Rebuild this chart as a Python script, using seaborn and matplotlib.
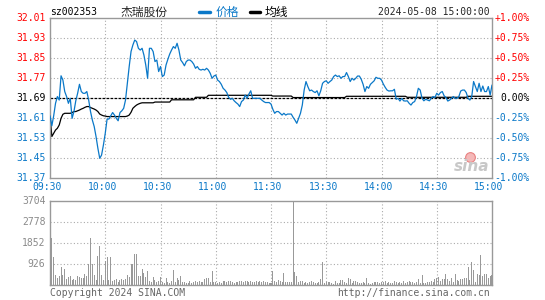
import numpy as np
import pandas as pd
import seaborn as sns
import matplotlib.pyplot as plt
from matplotlib.lines import Line2D
from matplotlib.transforms import blended_transform_factory, ScaledTranslation

# intraday data, one value per trading minute (09:30-11:30, 13:01-15:00)
price = [
    31.62, 31.58, 31.62, 31.67, 31.697, 31.683, 31.78, 31.763, 31.717, 31.697,
    31.67, 31.69, 31.61, 31.637, 31.68, 31.71, 31.746, 31.717, 31.71, 31.71,
    31.717, 31.683, 31.637, 31.603, 31.577, 31.537, 31.49, 31.45, 31.463, 31.503,
    31.55, 31.607, 31.607, 31.62, 31.633, 31.623, 31.61, 31.60, 31.633, 31.64,
    31.65, 31.683, 31.75, 31.817, 31.877, 31.903, 31.923, 31.917, 31.89, 31.883,
    31.89, 31.863, 31.823, 31.77, 31.89, 31.89, 31.877, 31.837, 31.843, 31.797,
    31.817, 31.777, 31.783, 31.823, 31.846, 31.867, 31.883, 31.897, 31.89, 31.91,
    31.883, 31.843, 31.833, 31.82, 31.837, 31.843, 31.843, 31.837, 31.827, 31.81,
    31.817, 31.806, 31.803, 31.806, 31.803, 31.81, 31.803, 31.79, 31.77, 31.779,
    31.783, 31.763, 31.757, 31.746, 31.73, 31.723, 31.713, 31.694, 31.686, 31.69,
    31.68, 31.673, 31.667, 31.657, 31.677, 31.683, 31.703, 31.69, 31.707, 31.72,
    31.69, 31.69, 31.69, 31.69, 31.69, 31.683, 31.677, 31.673, 31.673, 31.673,
    31.667, 31.646, 31.63, 31.637, 31.637, 31.63, 31.623, 31.63, 31.623, 31.627,
    31.627, 31.627, 31.614, 31.603, 31.59, 31.61, 31.63, 31.663, 31.723, 31.757,
    31.737, 31.72, 31.723, 31.717, 31.713, 31.72, 31.70, 31.72, 31.75, 31.757,
    31.76, 31.75, 31.757, 31.763, 31.777, 31.783, 31.777, 31.78, 31.77, 31.777,
    31.777, 31.793, 31.777, 31.757, 31.77, 31.763, 31.77, 31.779, 31.779, 31.766,
    31.746, 31.717, 31.737, 31.73, 31.746, 31.753, 31.76, 31.774, 31.77, 31.77,
    31.763, 31.747, 31.734, 31.723, 31.719, 31.72, 31.72, 31.726, 31.686, 31.69,
    31.679, 31.69, 31.68, 31.679, 31.68, 31.67, 31.663, 31.673, 31.677, 31.697,
    31.73, 31.723, 31.69, 31.68, 31.686, 31.683, 31.68, 31.69, 31.697, 31.693,
    31.71, 31.703, 31.713, 31.717, 31.70, 31.693, 31.679, 31.683, 31.69, 31.697,
    31.69, 31.69, 31.697, 31.719, 31.723, 31.723, 31.713, 31.69, 31.683, 31.697,
    31.757, 31.737, 31.717, 31.75, 31.717, 31.739, 31.717, 31.717, 31.737, 31.703,
    31.743,
]

avg_price = [
    31.623, 31.537, 31.55, 31.563, 31.57, 31.583, 31.61, 31.626, 31.63, 31.63,
    31.63, 31.63, 31.633, 31.637, 31.637, 31.64, 31.643, 31.647, 31.65, 31.654,
    31.657, 31.657, 31.653, 31.65, 31.647, 31.643, 31.637, 31.627, 31.623, 31.62,
    31.619, 31.617, 31.617, 31.617, 31.617, 31.617, 31.617, 31.617, 31.617, 31.617,
    31.617, 31.617, 31.619, 31.623, 31.634, 31.65, 31.657, 31.663, 31.667, 31.67,
    31.672, 31.672, 31.672, 31.672, 31.672, 31.672, 31.672, 31.675, 31.675, 31.675,
    31.675, 31.675, 31.675, 31.675, 31.675, 31.675, 31.684, 31.684, 31.684, 31.684,
    31.684, 31.684, 31.684, 31.684, 31.684, 31.684, 31.684, 31.684, 31.684, 31.694,
    31.694, 31.694, 31.694, 31.694, 31.694, 31.694, 31.702, 31.702, 31.702, 31.702,
    31.702, 31.702, 31.702, 31.702, 31.702, 31.702, 31.702, 31.702, 31.702, 31.702,
    31.702, 31.702, 31.702, 31.702, 31.702, 31.702, 31.702, 31.702, 31.702, 31.702,
    31.702, 31.702, 31.702, 31.702, 31.702, 31.702, 31.702, 31.702, 31.702, 31.702,
    31.702, 31.699, 31.699, 31.699, 31.699, 31.699, 31.699, 31.699, 31.699, 31.699,
    31.699, 31.699, 31.693, 31.693, 31.693, 31.693, 31.693, 31.693, 31.693, 31.693,
    31.693, 31.693, 31.693, 31.693, 31.693, 31.693, 31.693, 31.693, 31.693, 31.693,
    31.693, 31.693, 31.693, 31.693, 31.693, 31.693, 31.693, 31.693, 31.693, 31.693,
    31.693, 31.698, 31.698, 31.698, 31.698, 31.698, 31.698, 31.698, 31.698, 31.698,
    31.698, 31.698, 31.698, 31.698, 31.698, 31.698, 31.698, 31.698, 31.698, 31.698,
    31.698, 31.698, 31.698, 31.698, 31.698, 31.698, 31.698, 31.698, 31.698, 31.698,
    31.698, 31.698, 31.698, 31.698, 31.694, 31.694, 31.694, 31.694, 31.694, 31.694,
    31.694, 31.694, 31.694, 31.694, 31.694, 31.694, 31.694, 31.694, 31.694, 31.694,
    31.694, 31.694, 31.694, 31.694, 31.694, 31.694, 31.694, 31.694, 31.694, 31.694,
    31.694, 31.694, 31.694, 31.694, 31.694, 31.694, 31.694, 31.698, 31.698, 31.698,
    31.698, 31.698, 31.698, 31.698, 31.698, 31.698, 31.698, 31.698, 31.698, 31.698,
    31.698,
]

volume = [
    130, 2100, 1260, 450, 310, 425, 820, 450, 720, 280,
    380, 425, 235, 280, 235, 425, 380, 300, 300, 510,
    410, 940, 2100, 940, 450, 235, 1290, 1750, 450, 235,
    1070, 1250, 235, 1260, 190, 235, 280, 130, 250, 280,
    220, 280, 450, 380, 940, 940, 1380, 1380, 410, 410,
    720, 525, 380, 630, 190, 130, 380, 235, 130, 190,
    380, 130, 90, 310, 160, 90, 190, 660, 130, 310,
    235, 410, 130, 130, 90, 90, 190, 90, 160, 190,
    130, 190, 130, 160, 280, 310, 335, 130, 630, 160,
    130, 90, 130, 90, 205, 190, 130, 205, 190, 130,
    90, 130, 130, 205, 190, 130, 205, 205, 130, 190,
    130, 130, 190, 130, 190, 130, 205, 130, 160, 90,
    90, 630, 190, 130, 235, 190, 130, 555, 130, 130,
    130, 130, 3704, 570, 410, 130, 190, 190, 90, 130,
    90, 130, 190, 130, 90, 90, 130, 265, 1010, 90,
    130, 160, 130, 90, 75, 205, 90, 90, 220, 220,
    130, 90, 310, 265, 90, 190, 190, 130, 90, 90,
    130, 90, 310, 90, 60, 90, 130, 130, 130, 100,
    130, 160, 190, 90, 130, 100, 90, 190, 130, 90,
    130, 90, 190, 90, 130, 190, 130, 130, 90, 130,
    265, 90, 455, 90, 90, 130, 130, 190, 130, 280,
    335, 380, 190, 280, 280, 500, 280, 190, 310, 130,
    500, 235, 190, 265, 280, 335, 335, 820, 235, 1040,
    675, 130, 510, 450, 1335, 425, 485, 510, 300, 400,
    450,
]

prev_close = 31.69
price_ticks = [31.37, 31.45, 31.53, 31.61, 31.69, 31.77, 31.85, 31.93, 32.01]
pct_labels = ["-1.00%", "-0.75%", "-0.50%", "-0.25%", "0.00%",
              "+0.25%", "+0.50%", "+0.75%", "+1.00%"]
time_ticks = [0, 30, 60, 90, 120, 150, 180, 210, 240]
time_labels = ["09:30", "10:00", "10:30", "11:00", "11:30",
               "13:30", "14:00", "14:30", "15:00"]
vol_ticks = [926, 1852, 2778, 3704]

BLUE = "#0a78c8"
RED = "#ff0000"
GRID = "#aaaaaa"
FRAME = "#999999"
MONO = "DejaVu Sans Mono"
CJK = ["Noto Sans CJK SC", "DejaVu Sans"]

sns.set_style("white")
plt.rcParams["font.family"] = MONO

df = pd.DataFrame({"minute": np.arange(len(price)), "price": price,
                   "avg": avg_price, "volume": volume})

W, H = 545, 300
fig = plt.figure(figsize=(W / 100, H / 100), dpi=100)
ax = fig.add_axes([50 / W, 1 - 178.3 / H, 442 / W, 160 / H])
axv = fig.add_axes([50 / W, 1 - 285.3 / H, 442 / W, 84 / H])


def frame(a):
    for s in a.spines.values():
        s.set_color(FRAME)
        s.set_linewidth(1.0)
    a.tick_params(length=0, labelleft=False, labelbottom=False)
    a.set_xlabel("")
    a.set_ylabel("")


# price panel
for v in price_ticks[1:-1]:
    if v != prev_close:
        ax.axhline(v, color=GRID, lw=0.8, ls=(0, (1, 2)), zorder=0)
for t in time_ticks[1:-1]:
    ax.axvline(t, color=GRID, lw=0.8, ls=(0, (1, 2)), zorder=0)
ax.axhline(prev_close, color="black", lw=0.9, ls=(0, (2.2, 1)), zorder=1)

sns.lineplot(data=df, x="minute", y="price", ax=ax, color=BLUE, lw=0.9, zorder=3)
sns.lineplot(data=df, x="minute", y="avg", ax=ax, color="black", lw=0.9, zorder=2)
ax.set_xlim(0, 240)
ax.set_ylim(price_ticks[0], price_ticks[-1])
frame(ax)

# watermark logo
ax.plot([0.95], [0.135], transform=ax.transAxes, marker="o", ms=7,
        mfc="#f4b8b8", mec="#e88080", mew=0.8, zorder=1)
ax.text(0.995, 0.075, "sina", transform=ax.transAxes, ha="right", va="center",
        fontsize=11, fontweight="bold", fontstyle="italic", color="#c8c8c8",
        family="DejaVu Sans", zorder=1)

# price labels left and percent labels right
tr = blended_transform_factory(fig.transFigure, ax.transData)
for v, p in zip(price_ticks, pct_labels):
    c = RED if v > prev_close else ("black" if v == prev_close else BLUE)
    ax.text(45.5 / W, v, f"{v:.2f}", transform=tr, ha="right", va="center",
            fontsize=7, color=c)
    ax.text(530 / W, v, p, transform=tr, ha="right", va="center",
            fontsize=7, color=c)

# time labels
trx = blended_transform_factory(ax.transData, fig.transFigure) + \
    ScaledTranslation(-3 / 100, 0, fig.dpi_scale_trans)
for t, lab in zip(time_ticks, time_labels):
    fig.text(t, 1 - 187.5 / H, lab, transform=trx, ha="center", va="center",
             fontsize=7, color=BLUE)

# volume panel
for v in vol_ticks[:-1]:
    axv.axhline(v, color=GRID, lw=0.8, ls=(0, (1, 2)), zorder=0)
for t in time_ticks[1:-1]:
    axv.axvline(t, color=GRID, lw=0.8, ls=(0, (1, 2)), zorder=0)
axv.bar(df["minute"], df["volume"], width=0.55, color="#999999", lw=0, zorder=2)
axv.set_xlim(0, 240)
axv.set_ylim(0, vol_ticks[-1])
frame(axv)

trv = blended_transform_factory(fig.transFigure, axv.transData)
for v in vol_ticks:
    axv.text(45.5 / W, v, str(v), transform=trv, ha="right", va="center",
             fontsize=7, color="#8a8a8a")

# header
yh = 1 - 12 / H
fig.text(50 / W, yh, "sz002353", fontsize=7, va="center", color="black")
fig.text(120 / W, yh, "杰瑞股份", fontsize=8.5, va="center", family=CJK)
fig.add_artist(Line2D([199 / W, 210 / W], [yh, yh], lw=2.5, color=BLUE,
                      transform=fig.transFigure))
fig.text(215.5 / W, yh, "价格", fontsize=8.5, va="center", color=BLUE, family=CJK)
fig.add_artist(Line2D([249.5 / W, 260 / W], [yh, yh], lw=2.5, color="black",
                      transform=fig.transFigure))
fig.text(265 / W, yh, "均线", fontsize=8.5, va="center", color="black", family=CJK)
fig.text(490 / W, yh, "2024-05-08 15:00:00", fontsize=7, va="center", ha="right")

# footer
yf = 1 - 293.5 / H
fig.text(50 / W, yf, "Copyright 2024 SINA.COM", fontsize=7, va="center", color="#666666")
fig.text(490 / W, yf, "http://finance.sina.com.cn", fontsize=7, va="center",
         ha="right", color="#666666")

plt.savefig("out.png", dpi=100)
